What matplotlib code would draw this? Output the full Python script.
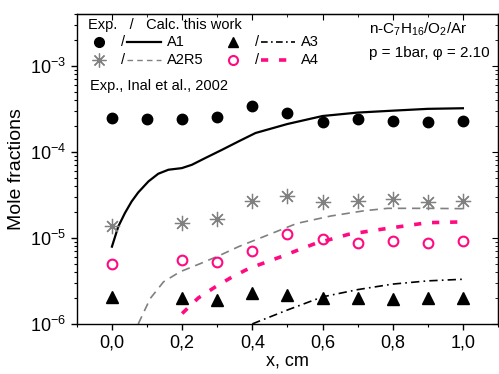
import numpy as np
import matplotlib
matplotlib.use('Agg')
import matplotlib.pyplot as plt
from matplotlib.ticker import FixedLocator, FuncFormatter, LogLocator, NullFormatter

plt.rcParams['font.family'] = ['Liberation Sans', 'DejaVu Sans']
plt.rcParams['mathtext.fontset'] = 'custom'
plt.rcParams['mathtext.rm'] = 'Liberation Sans'
plt.rcParams['mathtext.it'] = 'Liberation Sans:italic'

# ---- experiment (Inal et al., 2002) ----
x_exp = [0.0, 0.1, 0.2, 0.3, 0.4, 0.5, 0.6, 0.7, 0.8, 0.9, 1.0]
a1_exp = [2.48e-4, 2.4e-4, 2.4e-4, 2.5e-4, 3.4e-4, 2.8e-4, 2.2e-4, 2.4e-4, 2.3e-4, 2.2e-4, 2.3e-4]
x_exp2 = [0.0, 0.2, 0.3, 0.4, 0.5, 0.6, 0.7, 0.8, 0.9, 1.0]
a2r5_exp = [1.38e-5, 1.5e-5, 1.64e-5, 2.7e-5, 3.1e-5, 2.6e-5, 2.7e-5, 2.8e-5, 2.6e-5, 2.7e-5]
a3_exp = [2.06e-6, 2.0e-6, 1.9e-6, 2.3e-6, 2.15e-6, 2.0e-6, 2.0e-6, 1.95e-6, 2.0e-6, 2.02e-6]
a4_exp = [5.0e-6, 5.5e-6, 5.3e-6, 7.0e-6, 1.1e-5, 9.6e-6, 8.8e-6, 9.1e-6, 8.6e-6, 9.1e-6]

# ---- calculation (this work) ----
x_a1 = [0.0, 0.018, 0.037, 0.056, 0.075, 0.104, 0.132, 0.161, 0.199, 0.228, 0.266,
        0.313, 0.361, 0.409, 0.5, 0.6, 0.7, 0.8, 0.9, 1.0]
a1_calc = [7.9e-6, 1.35e-5, 1.94e-5, 2.64e-5, 3.37e-5, 4.52e-5, 5.55e-5, 6.18e-5, 6.45e-5, 7.06e-5, 8.45e-5,
           1.05e-4, 1.32e-4, 1.65e-4, 2.1e-4, 2.6e-4, 2.85e-4, 3.0e-4, 3.15e-4, 3.2e-4]
x_a2r5 = [0.075, 0.109, 0.147, 0.194, 0.251, 0.309, 0.361, 0.432, 0.527, 0.623, 0.718, 0.785, 0.9, 1.0]
a2r5_calc = [1.0e-6, 1.97e-6, 3.08e-6, 4.03e-6, 5.0e-6, 6.3e-6, 7.9e-6, 1.03e-5, 1.47e-5, 1.79e-5, 2.06e-5, 2.2e-5, 2.2e-5, 2.18e-5]
x_a3 = [0.4, 0.5, 0.6, 0.7, 0.8, 0.9, 1.0]
a3_calc = [1.0e-6, 1.45e-6, 2.06e-6, 2.5e-6, 2.9e-6, 3.16e-6, 3.3e-6]
x_a4 = [0.2, 0.246, 0.294, 0.342, 0.39, 0.485, 0.53, 0.58, 0.623, 0.675, 0.718, 0.77, 0.9, 1.0]
a4_calc = [1.32e-6, 2.0e-6, 2.68e-6, 3.5e-6, 4.4e-6, 6.1e-6, 7.2e-6, 8.6e-6, 9.6e-6, 1.1e-5, 1.17e-5, 1.26e-5, 1.5e-5, 1.53e-5]

gray = '#808080'
pink = '#ff0a80'

fig = plt.figure(figsize=(4.99, 3.74), dpi=100)
ax = fig.add_axes([0.154, 0.134, 0.844, 0.829])

ax.plot(x_a1, a1_calc, '-', color='black', lw=1.6)
ax.plot(x_a2r5, a2r5_calc, '--', color=gray, lw=1.2, dashes=(5, 3.5))
ax.plot(x_a3, a3_calc, '-.', color='black', lw=1.2, dashes=(5, 2.5, 1, 2.5))
ax.plot(x_a4, a4_calc, '-', color=pink, lw=2.6, dashes=(2.0, 3.0))

ax.plot(x_exp, a1_exp, 'o', color='black', ms=7.5, ls='none')
ax.plot(x_exp2, a2r5_exp, color=gray, ms=11, ls='none', marker=(8, 2, 0), mew=0.9)
ax.plot(x_exp2, a3_exp, '^', color='black', ms=8, ls='none')
ax.plot(x_exp2, a4_exp, 'o', mfc='none', mec=pink, mew=1.5, ms=7, ls='none')

ax.set_yscale('log')
ax.set_xlim(-0.1, 1.1)
ax.set_ylim(1e-6, 4e-3)
ax.xaxis.set_major_locator(FixedLocator([0.0, 0.2, 0.4, 0.6, 0.8, 1.0]))
ax.xaxis.set_minor_locator(FixedLocator([-0.1, 0.1, 0.3, 0.5, 0.7, 0.9, 1.1]))
ax.xaxis.set_major_formatter(FuncFormatter(lambda v, p: ('%.1f' % v).replace('.', ',')))
ax.yaxis.set_major_locator(LogLocator(base=10, numticks=10))
ax.yaxis.set_minor_locator(LogLocator(base=10, subs=np.arange(2, 10), numticks=20))
ax.yaxis.set_minor_formatter(NullFormatter())
ax.yaxis.set_major_formatter(FuncFormatter(lambda v, p: r'$10^{%d}$' % int(round(np.log10(v)))))

ax.tick_params(axis='both', which='major', direction='out', length=4, width=1, labelsize=13, colors='black')
ax.tick_params(axis='both', which='minor', direction='out', length=2.5, width=0.8)
ax.tick_params(which='both', top=False, right=False)
sec_x = ax.secondary_xaxis('top')
sec_x.xaxis.set_major_locator(FixedLocator([0.0, 0.2, 0.4, 0.6, 0.8, 1.0]))
sec_x.xaxis.set_minor_locator(FixedLocator([-0.1, 0.1, 0.3, 0.5, 0.7, 0.9, 1.1]))
sec_x.tick_params(which='major', direction='in', length=4, labeltop=False)
sec_x.tick_params(which='minor', direction='in', length=2.5)
sec_y = ax.secondary_yaxis('right')
sec_y.set_yscale('log')
sec_y.yaxis.set_major_locator(LogLocator(base=10, numticks=10))
sec_y.yaxis.set_minor_locator(LogLocator(base=10, subs=np.arange(2, 10), numticks=20))
sec_y.tick_params(which='major', direction='in', length=4, labelright=False)
sec_y.tick_params(which='minor', direction='in', length=2.5)
sec_y.yaxis.set_minor_formatter(NullFormatter())
for s in ax.spines.values():
    s.set_linewidth(1.0)

ax.set_xlabel('x, cm', fontsize=13, labelpad=1)
ax.set_ylabel('Mole fractions', fontsize=14, labelpad=4)


# legend drawn by hand (pixel positions -> axes fraction)
def px(x, y):
    return ((x - 77) / 421.0, (324 - y) / 310.0)


tr = ax.transAxes
fs = 10.5
ax.text(*px(88, 25), 'Exp.   /   Calc. this work', transform=tr, fontsize=fs, va='center')
ax.text(*px(90, 86), 'Exp., Inal et al., 2002', transform=tr, fontsize=fs, va='center')

rows = [
    (42, 99, dict(marker='o', color='black', ms=7), dict(color='black', lw=1.6), 'A1'),
    (60, 99, dict(marker=(8, 2, 0), color=gray, ms=10, mew=0.9), dict(color=gray, lw=1.0, dashes=(4, 3)), 'A2R5'),
    (42, 233, dict(marker='^', color='black', ms=7.5), dict(color='black', lw=1.2, dashes=(4, 2, 1, 2)), 'A3'),
    (60, 233, dict(marker='o', mfc='none', mec=pink, mew=1.5, ms=6.5), dict(color=pink, lw=2.6, dashes=(2.0, 3.0)), 'A4'),
]
for yy, xm, mk, ln, lab in rows:
    ax.plot(*px(xm, yy), transform=tr, ls='none', clip_on=False, **mk)
    ax.text(*px(xm + 22, yy), '/', transform=tr, fontsize=fs, va='center')
    x0, y0 = px(xm + 28, yy)
    x1, _ = px(xm + 62, yy)
    ax.plot([x0, x1], [y0, y0], transform=tr, **ln)
    ax.text(*px(xm + 68, yy), lab, transform=tr, fontsize=fs, va='center')

ax.text(*px(369, 29), r'n-C$_7$H$_{16}$/O$_2$/Ar', transform=tr, fontsize=11, va='center')
ax.text(*px(369, 53), 'p = 1bar, φ = 2.10', transform=tr, fontsize=11, va='center')

fig.savefig('out.png', dpi=100)
